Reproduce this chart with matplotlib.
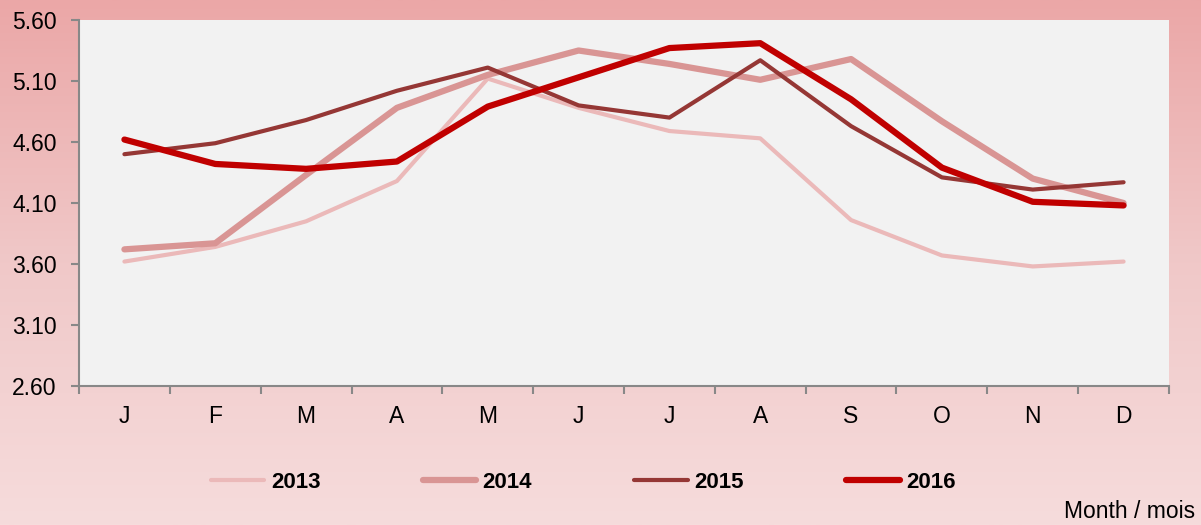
import matplotlib
matplotlib.use("Agg")
import matplotlib.pyplot as plt
from matplotlib.colors import LinearSegmentedColormap
import numpy as np

months = ["J", "F", "M", "A", "M", "J", "J", "A", "S", "O", "N", "D"]
y2013 = [3.62, 3.74, 3.95, 4.28, 5.12, 4.88, 4.69, 4.63, 3.96, 3.67, 3.58, 3.62]
y2014 = [3.72, 3.77, 4.33, 4.88, 5.15, 5.35, 5.24, 5.11, 5.28, 4.77, 4.30, 4.10]
y2015 = [4.50, 4.59, 4.78, 5.02, 5.21, 4.90, 4.80, 5.27, 4.73, 4.31, 4.21, 4.27]
y2016 = [4.62, 4.42, 4.38, 4.44, 4.89, 5.13, 5.37, 5.41, 4.95, 4.39, 4.11, 4.08]
yticks = [2.60, 3.10, 3.60, 4.10, 4.60, 5.10, 5.60]

plt.rcParams['font.family'] = ['Liberation Sans', 'DejaVu Sans']

fig = plt.figure(figsize=(12.01, 5.25), dpi=100)

# pink gradient background
bg = fig.add_axes([0, 0, 1, 1], zorder=-10)
grad = LinearSegmentedColormap.from_list("bg", ["#eba7a7", "#f0c8c8", "#f6dcdc"])
bg.imshow(np.linspace(0, 1, 256).reshape(-1, 1), aspect='auto', cmap=grad,
          extent=[0, 1, 0, 1], origin='upper')
bg.axis('off')

W, H = 1201, 525
ax = fig.add_axes([79 / W, 1 - 386 / H, (1169 - 79) / W, (386 - 20) / H])
ax.set_facecolor('#f2f2f2')

x = np.arange(len(months))
ax.plot(x, y2013, color='#ebb9b9', lw=3, solid_capstyle='round', label='2013')
ax.plot(x, y2014, color='#d99594', lw=4.5, solid_capstyle='round', label='2014')
ax.plot(x, y2015, color='#953735', lw=3, solid_capstyle='round', label='2015')
ax.plot(x, y2016, color='#c00000', lw=4.5, solid_capstyle='round', label='2016')

ax.set_xlim(-0.5, len(months) - 0.5)
ax.set_ylim(2.60, 5.60)
ax.set_yticks(yticks)
ax.set_yticklabels(["%.2f" % v for v in yticks])
ax.set_xticks(x)
ax.set_xticklabels(months)
ax.set_xticks(np.arange(-0.5, len(months)), minor=True)
ax.tick_params(axis='x', which='major', length=0, pad=14, labelsize=16.5)
ax.tick_params(axis='x', which='minor', length=6, color='#888888', width=1.5)
ax.tick_params(axis='y', length=6, color='#888888', width=1.5, labelsize=16.5, pad=10)

for s in ['top', 'right']:
    ax.spines[s].set_visible(False)
for s in ['left', 'bottom']:
    ax.spines[s].set_color('#888888')
    ax.spines[s].set_linewidth(1.5)

# legend row below the axis
leg = fig.legend(loc='center left', bbox_to_anchor=(191 / W, 1 - 482 / H), ncol=4,
                 frameon=False, handlelength=2.4, handletextpad=0.3,
                 columnspacing=4.6,
                 prop={'weight': 'bold', 'size': 16})

fig.text(1195 / W, 1 - 512 / H, "Month / mois", ha='right', va='center', fontsize=16.5)

fig.savefig("out.png", dpi=100)
